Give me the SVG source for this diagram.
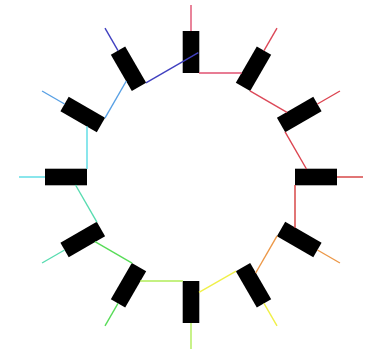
<svg xmlns="http://www.w3.org/2000/svg" width="370" height="353" viewBox="0 0 370 353">
<style>
.bar{fill:#000}
line{stroke-width:1.4;fill:none}
.c0{stroke:#e05070}.c1{stroke:#dc4858}.c2{stroke:#dc4450}.c3{stroke:#d43c3c}
.c4{stroke:#ec9848}.c5{stroke:#f0f048}.c6{stroke:#b0ec58}.c7{stroke:#58dc58}
.c8{stroke:#58dcb0}.c9{stroke:#58dce4}.c10{stroke:#58a0e4}.c11{stroke:#4040c0}
</style>
<rect width="370" height="353" fill="#fff"/>
<defs><rect id="r" class="bar" x="-8.3" y="-21" width="16.6" height="42"/></defs>
<g id="n0"><use href="#r" transform="translate(191,52) rotate(0)"/><line class="c0" x1="191" y1="31" x2="191" y2="5"/></g>
<g id="n1"><use href="#r" transform="translate(253.5,68.75) rotate(30)"/><line class="c1" x1="264" y1="50.56" x2="277" y2="28.04"/></g>
<g id="n2"><use href="#r" transform="translate(299.25,114.5) rotate(60)"/><line class="c2" x1="317.44" y1="104" x2="339.96" y2="91"/></g>
<g id="n3"><use href="#r" transform="translate(316,177) rotate(90)"/><line class="c3" x1="337" y1="177" x2="363" y2="177"/></g>
<g id="n4"><use href="#r" transform="translate(299.25,239.5) rotate(120)"/><line class="c4" x1="317.44" y1="250" x2="339.96" y2="263"/></g>
<g id="n5"><use href="#r" transform="translate(253.5,285.25) rotate(150)"/><line class="c5" x1="264" y1="303.44" x2="277" y2="325.96"/></g>
<g id="n6"><use href="#r" transform="translate(191,302) rotate(180)"/><line class="c6" x1="191" y1="323" x2="191" y2="349"/></g>
<g id="n7"><use href="#r" transform="translate(128.5,285.25) rotate(210)"/><line class="c7" x1="118" y1="303.44" x2="105" y2="325.96"/></g>
<g id="n8"><use href="#r" transform="translate(82.75,239.5) rotate(240)"/><line class="c8" x1="64.56" y1="250" x2="42.04" y2="263"/></g>
<g id="n9"><use href="#r" transform="translate(66,177) rotate(270)"/><line class="c9" x1="45" y1="177" x2="19" y2="177"/></g>
<g id="n10"><use href="#r" transform="translate(82.75,114.5) rotate(300)"/><line class="c10" x1="64.56" y1="104" x2="42.04" y2="91"/></g>
<g id="n11"><use href="#r" transform="translate(128.5,68.75) rotate(330)"/><line class="c11" x1="118" y1="50.56" x2="105" y2="28.04"/></g>
<g id="connectors">
<line class="c0" x1="199" y1="73" x2="241.8" y2="73"/>
<line class="c1" x1="249.93" y1="90.93" x2="287" y2="112.33"/>
<line class="c2" x1="285.07" y1="131.93" x2="306.47" y2="169"/>
<line class="c3" x1="295" y1="185" x2="295" y2="227.8"/>
<line class="c4" x1="277.07" y1="235.93" x2="255.67" y2="273"/>
<line class="c5" x1="236.07" y1="271.07" x2="199" y2="292.47"/>
<line class="c6" x1="183" y1="281" x2="140.2" y2="281"/>
<line class="c7" x1="132.07" y1="263.07" x2="95" y2="241.67"/>
<line class="c8" x1="96.93" y1="222.07" x2="75.53" y2="185"/>
<line class="c9" x1="87" y1="169" x2="87" y2="126.2"/>
<line class="c10" x1="104.93" y1="118.07" x2="126.33" y2="81"/>
<line class="c11" x1="145.93" y1="82.93" x2="198.32" y2="52.68"/>
</g>
</svg>
